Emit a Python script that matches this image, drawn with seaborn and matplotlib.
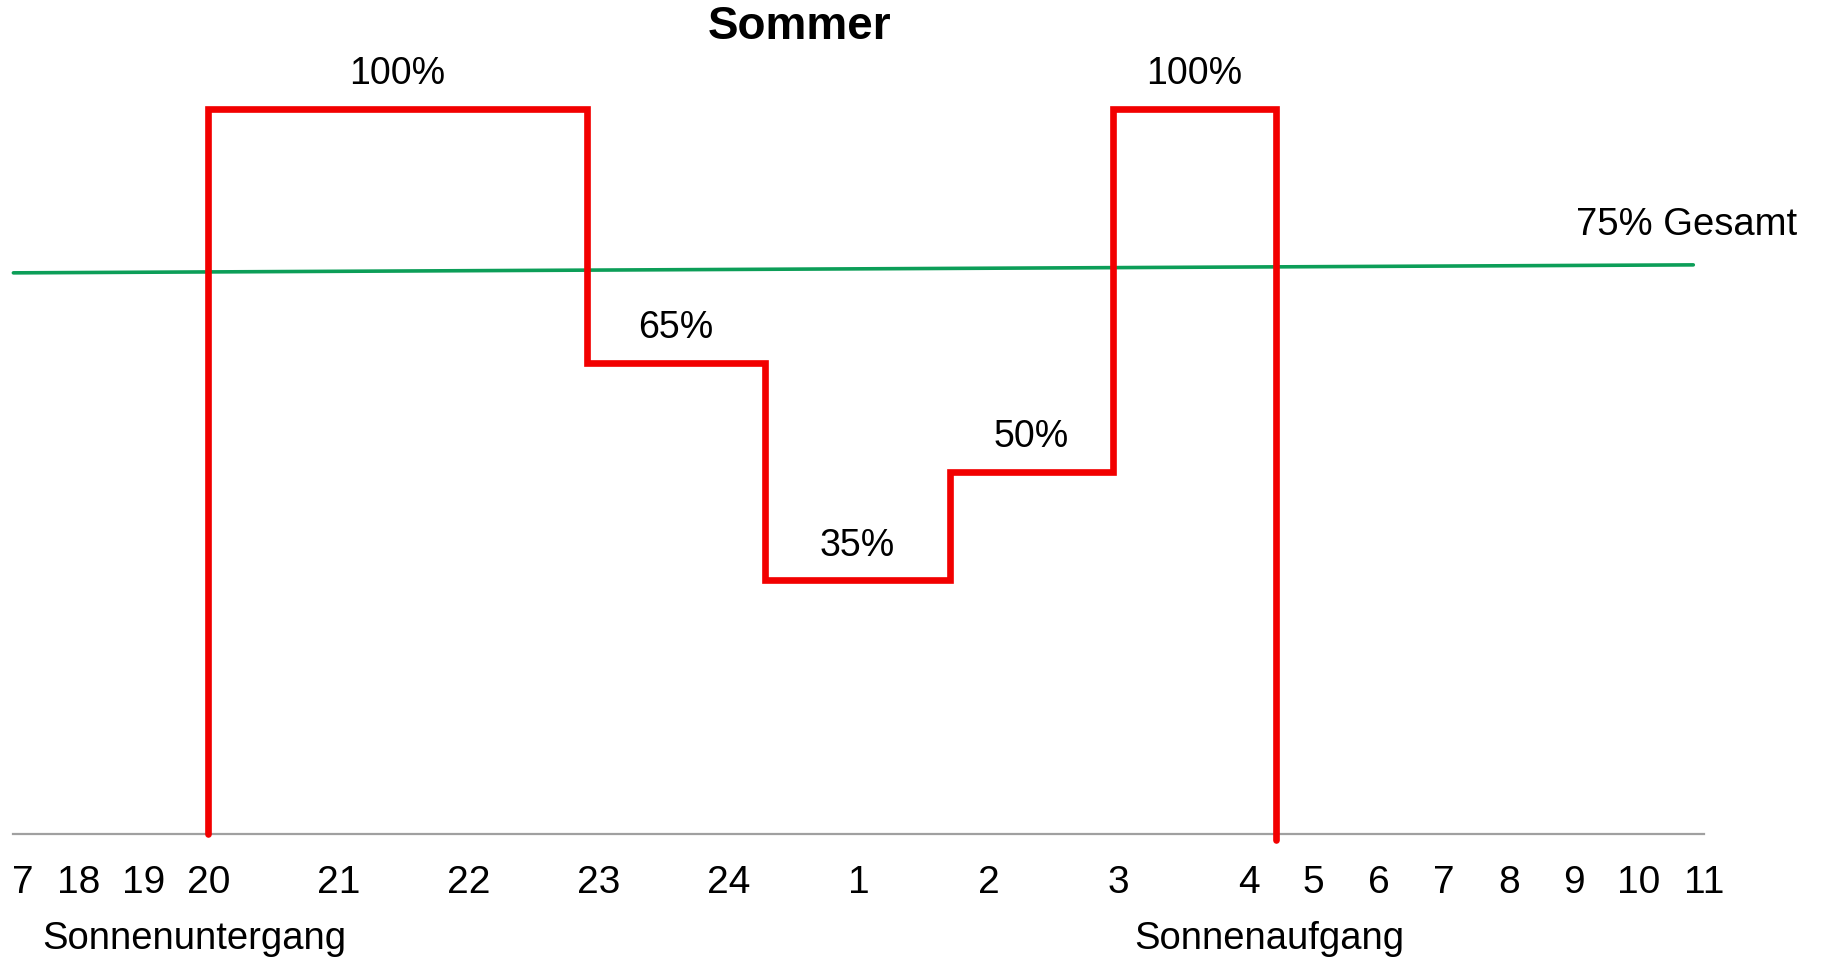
import numpy as np
import pandas as pd
import matplotlib
matplotlib.use("Agg")
import matplotlib.pyplot as plt
from matplotlib.transforms import ScaledTranslation
import seaborn as sns

# clock hours, counted on past midnight (25 = 1 Uhr, 28 = 4 Uhr ...)
tick_hours = [17, 18, 19, 20, 20.5, 21, 21.5, 22, 22.5, 23, 23.5, 24, 24.5,
              25, 25.5, 26, 26.5, 27, 27.5, 28, 29, 30, 31, 32, 33, 34, 35]
tick_labels = ["7", "18", "19", "20", "", "21", "", "22", "", "23", "", "24", "",
               "1", "", "2", "", "3", "", "4", "5", "6", "7", "8", "9", "10", "11"]

# Beleuchtungsstufen im Sommer
step_edges = [20.0, 22.91, 24.28, 25.70, 26.955, 28.42]
step_levels = [100, 65, 35, 50, 100]
step_labels = ["100%", "65%", "35%", "50%", "100%"]
end_level = -0.8

# Gesamt-Linie
total_hours = [17, 34.84]
total_values = [77.4, 78.5]
total_label = "75% Gesamt"

sunset_hour = 20.0
sunrise_hour = 28.42

sns.set_style("white")
plt.rcParams['font.family'] = ['Liberation Sans', 'DejaVu Sans']
plt.rcParams['text.color'] = 'black'

slots = np.arange(len(tick_hours))
def fwd(h):
    return np.interp(h, tick_hours, slots)
def inv(s):
    return np.interp(s, slots, tick_hours)

fig = plt.figure(figsize=(18.21, 9.61), dpi=100)
ax = fig.add_axes([13.4 / 1821, 127 / 961, 1690.3 / 1821, 725 / 961])
ax.set_xscale('function', functions=(fwd, inv))

# step path from the edges / levels
xs = [step_edges[0]]
ys = [0]
for i, lev in enumerate(step_levels):
    xs += [step_edges[i], step_edges[i + 1]]
    ys += [lev, lev]
xs.append(step_edges[-1])
ys.append(end_level)
steps = pd.DataFrame({"hour": xs, "level": ys})

total = pd.DataFrame({"hour": total_hours, "level": total_values})

sns.lineplot(data=total, x="hour", y="level", color="#0c9e58", lw=2.6,
             sort=False, estimator=None, ax=ax, clip_on=False, zorder=2)
sns.lineplot(data=steps, x="hour", y="level", color="#f20000", lw=4.8,
             sort=False, estimator=None, ax=ax, clip_on=False, zorder=3,
             solid_joinstyle="miter")

for i, lab in enumerate(step_labels):
    a, b = step_edges[i], step_edges[i + 1]
    xm = inv((fwd(a) + fwd(b)) / 2)
    ax.annotate(lab, xy=(xm, step_levels[i]), xytext=(0, 25), textcoords="offset points",
                ha="center", va="center", fontsize=27, color="black")

ax.annotate(total_label, xy=(total_hours[-1], total_values[-1]), xytext=(-5, 29),
            textcoords="offset points", ha="center", va="center", fontsize=27.5,
            color="black")

ax.annotate("Sonnenuntergang", xy=(sunset_hour, 0), xycoords=ax.get_xaxis_transform(),
            xytext=(-10, -75.5), textcoords="offset points", ha="center", va="center",
            fontsize=27.5, color="black", annotation_clip=False)
ax.annotate("Sonnenaufgang", xy=(sunrise_hour, 0), xycoords=ax.get_xaxis_transform(),
            xytext=(-5, -75.5), textcoords="offset points", ha="center", va="center",
            fontsize=27.5, color="black", annotation_clip=False)

fig.text(800 / 1821, 1 - 27 / 961, "Sommer", ha="center", va="center",
         fontsize=33, fontweight="bold", color="black")

ax.set_xlim(tick_hours[0], tick_hours[-1])
ax.set_ylim(0, 100)
ax.set_xticks(tick_hours)
ax.set_xticklabels(tick_labels)
ax.set_yticks([])
ax.set_xlabel("")
ax.set_ylabel("")
ax.tick_params(axis="x", direction="out", length=8.6, width=1.4, color="#a0a0a0",
               labelsize=28, labelcolor="black", pad=14)
# first label sits a little right of its tick, as in the original
first = ax.get_xticklabels()[0]
first.set_transform(first.get_transform() + ScaledTranslation(0.09, 0, fig.dpi_scale_trans))
for s in ["left", "top", "right"]:
    ax.spines[s].set_visible(False)
ax.spines["bottom"].set_color("#a0a0a0")
ax.spines["bottom"].set_linewidth(1.6)
ax.patch.set_alpha(0)

fig.savefig("out.png", dpi=100)
